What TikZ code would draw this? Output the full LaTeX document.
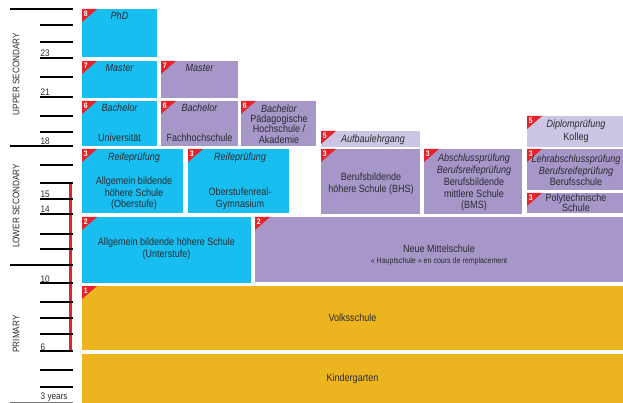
\documentclass[tikz,border=0pt]{standalone}
\usepackage{fontspec}
\setmainfont{Liberation Sans}[FakeStretch=0.86]
\definecolor{ahsblue}{HTML}{18BEF0}
\definecolor{bbspurple}{HTML}{A797C9}
\definecolor{lightpurple}{HTML}{CCC5E3}
\definecolor{primyellow}{HTML}{ECB41F}
\definecolor{trired}{HTML}{E52329}
\definecolor{ink}{HTML}{2A2A2E}
\definecolor{axisgray}{HTML}{777777}
\tikzset{
  cell/.style={anchor=north west, inner sep=0pt, outer sep=0pt, draw=none},
  tri/.style={fill=trired},
  num/.style={text=white, font=\bfseries\fontsize{8}{8}\selectfont, inner sep=0pt},
  txt/.style={text=ink, font=\fontsize{10.5}{11.5}\selectfont, align=center, inner sep=0pt},
  itxt/.style={text=ink, font=\itshape\fontsize{10.5}{11.5}\selectfont, align=center, inner sep=0pt},
  smalltxt/.style={text=ink, font=\fontsize{8.2}{8.5}\selectfont, inner sep=0pt},
  agelbl/.style={text=ink, font=\fontsize{9.5}{9.5}\selectfont, anchor=base west, inner sep=0pt},
  band/.style={rotate=90, text=ink, font=\fontsize{9.5}{9.5}\selectfont, inner sep=0pt},
  tickline/.style={line width=1.1pt, black},
}
% box with its red corner flag and level number
\newcommand\edubox[7]{%
  \node[cell, fill=#6, minimum width=#4pt, minimum height=#5pt] (#1) at (#2,#3) {};
  \fill[tri] (#1.north west) -- ++(15,0) -- ++(-15,13) -- cycle;
  \node[num] (#1-n) at ([xshift=3.8pt,yshift=-4.8pt]#1.north west) {#7};
}
\begin{document}
\begin{tikzpicture}[x=1pt,y=-1pt]
\useasboundingbox (0,0) rectangle (623,403);

% compulsory schooling bar
\draw[trired, line width=3.5pt] (70.3,183) -- (70.3,351);

% age axis
\foreach \yy in {25,42,58,77,97,116,132,165,183,199,214,234,249,283,302,318,334,351,370,387}
  \draw[tickline] (40,\yy) -- (73,\yy);
\foreach \yy in {9,146,265}
  \draw[tickline] (10,\yy) -- (73,\yy);
\draw[line width=1.1pt, axisgray] (10,402.4) -- (73,402.4);

\node[agelbl] (a23) at (40.5,57) {23};
\node[agelbl] (a21) at (40.5,96) {21};
\node[agelbl] (a18) at (40.5,145) {18};
\node[agelbl] (a15) at (40.5,198) {15};
\node[agelbl] (a14) at (40.5,213) {14};
\node[agelbl] (a10) at (40.5,282) {10};
\node[agelbl] (a6) at (40.5,350) {6};
\node[agelbl] (a3) at (40.5,399.5) {3 years};

\node[band] (upper) at (16,74) {UPPER SECONDARY};
\node[band] (lower) at (16,206) {LOWER SECONDARY};
\node[band] (prim) at (16,334) {PRIMARY};

% tertiary level
\edubox{phd}{82}{9}{75}{48}{ahsblue}{8}
\edubox{mastU}{82}{61}{75}{37}{ahsblue}{7}
\edubox{bachU}{82}{101}{75}{45}{ahsblue}{6}
\edubox{mastF}{161}{61}{77}{37}{bbspurple}{7}
\edubox{bachF}{161}{101}{77}{45}{bbspurple}{6}
\edubox{bachP}{241}{101}{75}{45}{bbspurple}{6}
\edubox{aufb}{321}{131}{99}{16}{lightpurple}{5}
\edubox{kolleg}{527}{116}{96}{31}{lightpurple}{5}

\node[itxt] (phd-t) at (119.5,15.5) {PhD};
\node[itxt] (mastU-t) at (119.5,68) {Master};
\node[itxt] (bachU-t) at (119.5,108) {Bachelor};
\node[txt] (bachU-s) at (119.5,138) {Universität};
\node[itxt] (mastF-t) at (199.5,68) {Master};
\node[itxt] (bachF-t) at (199.5,108) {Bachelor};
\node[txt] (bachF-s) at (199.5,137.5) {Fachhochschule};
\node[txt, font=\fontsize{10.5}{10.4}\selectfont] (bachP-t) at (279,124)
  {\textit{Bachelor}\\Pädagogische\\Hochschule /\\Akademie};
\node[itxt] (aufb-t) at (373,139.5) {Aufbaulehrgang};
\node[itxt] (kolleg-t) at (576,125) {Diplomprüfung};
\node[txt] (kolleg-s) at (576,138) {Kolleg};

% upper secondary level
\edubox{ahsO}{82}{149}{101}{64}{ahsblue}{3}
\edubox{orgG}{188}{149}{101}{64}{ahsblue}{3}
\edubox{bhs}{321}{149}{99}{65}{bbspurple}{3}
\edubox{bms}{424}{149}{98}{65}{bbspurple}{3}
\edubox{bs}{527}{149}{96}{41}{bbspurple}{3}
\edubox{pts}{527}{193}{96}{20}{bbspurple}{3}

\node[itxt] (ahsO-t) at (134,158) {Reifeprüfung};
\node[txt] (ahsO-s) at (134,193.5) {Allgemein bildende\\höhere Schule\\(Oberstufe)};
\node[itxt] (orgG-t) at (240,158) {Reifeprüfung};
\node[txt] (orgG-s) at (240,199) {Oberstufenreal-\\Gymnasium};
\node[txt] (bhs-s) at (371,184) {Berufsbildende\\höhere Schule (BHS)};
\node[txt, font=\fontsize{10.5}{11.8}\selectfont] (bms-t) at (474,182.5)
  {\textit{Abschlussprüfung}\\\textit{Berufsreifeprüfung}\\Berufsbildende\\mittlere Schule\\(BMS)};
\node[txt] (bs-t) at (576,170.5)
  {\textit{Lehrabschlussprüfung}\\\textit{Berufsreifeprüfung}\\Berufsschule};
\node[txt, font=\fontsize{10.5}{10}\selectfont] (pts-t) at (576,203) {Polytechnische\\Schule};

% lower secondary level
\edubox{ahsU}{82}{217}{169}{66}{ahsblue}{2}
\edubox{nms}{255}{217}{368}{65}{bbspurple}{2}
\node[txt] (ahsU-t) at (166.5,249) {Allgemein bildende höhere Schule\\(Unterstufe)};
\node[txt] (nms-t) at (439,249) {Neue Mittelschule};
\node[smalltxt] (nms-s) at (439,261) {« Hauptschule » en cours de remplacement};

% primary level and kindergarten
\edubox{vs}{82}{286}{541}{64}{primyellow}{1}
\node[cell, fill=primyellow, minimum width=541pt, minimum height=49pt] (kg) at (82,354) {};
\node[txt] (vs-t) at (352.5,318) {Volksschule};
\node[txt] (kg-t) at (352.5,379) {Kindergarten};
\end{tikzpicture}
\end{document}
